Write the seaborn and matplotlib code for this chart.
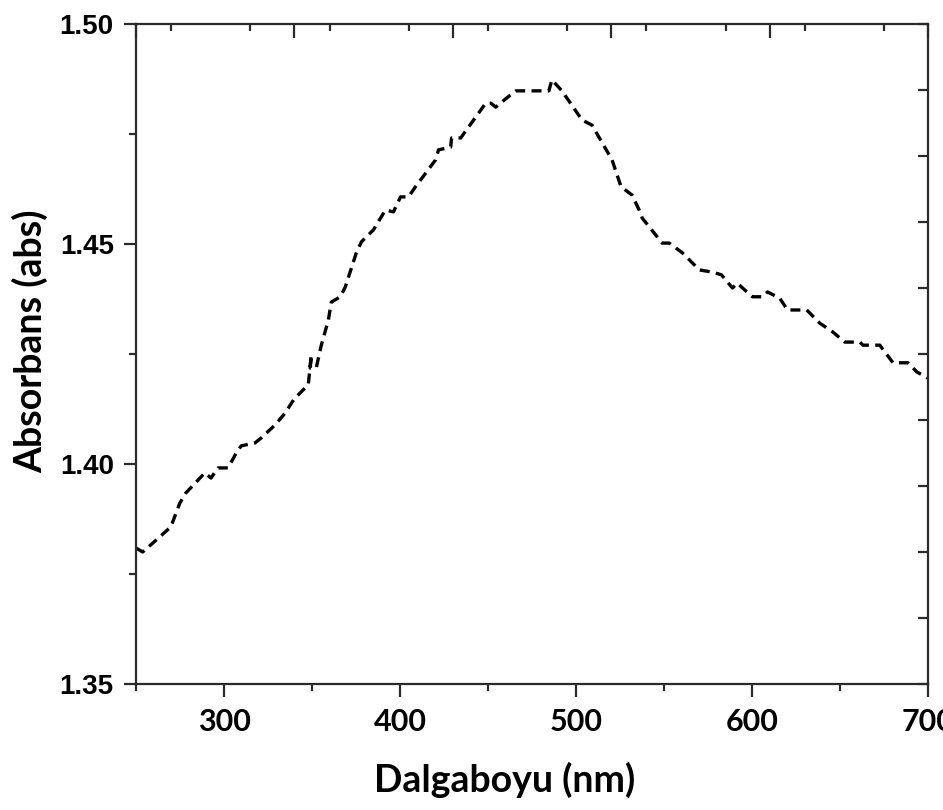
import matplotlib
matplotlib.use("Agg")
import matplotlib.pyplot as plt
import seaborn as sns
import pandas as pd
from matplotlib.ticker import MultipleLocator, NullFormatter

# Data
wavelength = [250.0, 253.8, 259.5, 269.8, 274.9, 278.3, 289.2, 292.6, 296.6, 302.3,
              306.3, 309.7, 317.7, 321.1, 329.1, 334.8, 339.9, 347.9, 349.6, 349.0,
              352.4, 355.3, 359.3, 361.0, 366.1, 368.9, 375.2, 378.1, 384.9, 391.7,
              396.3, 400.3, 404.8, 408.8, 420.2, 421.9, 428.8, 429.3, 434.5, 439.0,
              448.7, 451.6, 454.4, 460.7, 465.8, 484.6, 486.3, 492.0, 503.4, 509.1,
              520.5, 525.6, 531.9, 535.9, 537.6, 544.4, 549.0, 553.0, 560.4, 570.1,
              577.5, 582.6, 588.9, 591.7, 594.6, 600.3, 606.0, 608.8, 615.7, 620.2,
              631.1, 638.5, 645.9, 652.7, 661.3, 663.0, 672.6, 680.1, 688.6, 693.7,
              700.0]
absorbance = [1.3809, 1.3800, 1.3820, 1.3857, 1.3911, 1.3934, 1.3980, 1.3968, 1.3991, 1.3991,
              1.4020, 1.4041, 1.4048, 1.4059, 1.4089, 1.4116, 1.4148, 1.4180, 1.4248, 1.4218,
              1.4218, 1.4270, 1.4327, 1.4368, 1.4380, 1.4402, 1.4480, 1.4505, 1.4532, 1.4577,
              1.4573, 1.4607, 1.4607, 1.4630, 1.4691, 1.4714, 1.4720, 1.4741, 1.4741, 1.4766,
              1.4820, 1.4820, 1.4811, 1.4832, 1.4848, 1.4848, 1.4873, 1.4848, 1.4782, 1.4770,
              1.4691, 1.4630, 1.4611, 1.4577, 1.4559, 1.4525, 1.4502, 1.4502, 1.4480, 1.4441,
              1.4436, 1.4430, 1.4400, 1.4411, 1.4400, 1.4380, 1.4380, 1.4391, 1.4377, 1.4350,
              1.4350, 1.4320, 1.4300, 1.4277, 1.4277, 1.4270, 1.4270, 1.4230, 1.4230, 1.4209,
              1.4195]
x_ticks = [300, 400, 500, 600, 700]
y_ticks = [1.35, 1.40, 1.45, 1.50]
x_label = "Dalgaboyu (nm)"
y_label = "Absorbans (abs)"

sns.set_style("ticks")
plt.rcParams["font.family"] = ["Lato", "DejaVu Sans"]
plt.rcParams["text.color"] = "black"
plt.rcParams["axes.labelcolor"] = "black"
plt.rcParams["xtick.color"] = "black"
plt.rcParams["ytick.color"] = "black"

fig = plt.figure(figsize=(9.43, 8.10), dpi=100)
ax = fig.add_axes([0.1442, 0.1556, 0.9841 - 0.1442, 0.9704 - 0.1556])

df = pd.DataFrame({"wl": wavelength, "abs": absorbance})
sns.lineplot(data=df, x="wl", y="abs", sort=False, estimator=None, color="black",
             linewidth=2.4, ax=ax)
ax.lines[0].set_linestyle((0, (3.0, 1.9)))

ax.set_xlim(250, 700)
ax.set_ylim(1.35, 1.50)
ax.set_xticks(x_ticks)
ax.set_yticks(y_ticks)
ax.set_xticklabels([str(v) for v in x_ticks])
ax.set_yticklabels([f"{v:.2f}" for v in y_ticks])
ax.xaxis.set_minor_locator(MultipleLocator(50))
ax.yaxis.set_minor_locator(MultipleLocator(0.025))

spine_color = "#2a2a2a"
for s in ax.spines.values():
    s.set_visible(True)
    s.set_linewidth(1.6)
    s.set_color(spine_color)

ax.tick_params(axis="both", which="major", direction="out", length=9, width=1.6,
               color=spine_color, pad=7)
ax.tick_params(axis="both", which="minor", direction="out", length=5, width=1.6,
               color=spine_color)
ax.tick_params(axis="x", which="major", labelsize=22, pad=8)
for lbl in ax.get_xticklabels():
    lbl.set_fontweight("bold")
for lbl in ax.get_yticklabels():
    lbl.set_fontweight("bold")
    lbl.set_fontfamily(["Liberation Sans", "DejaVu Sans"])
    lbl.set_fontsize(20)

# top and right auxiliary ticks (no labels)
top = ax.secondary_xaxis("top")
top.set_xticks([250 + 90 * i for i in range(6)])
top.xaxis.set_minor_locator(MultipleLocator(45))
top.xaxis.set_major_formatter(NullFormatter())
top.tick_params(which="major", direction="in", length=10, width=1.6, color=spine_color)
top.tick_params(which="minor", direction="in", length=5, width=1.6, color=spine_color)
top.spines["top"].set_visible(False)

right = ax.secondary_yaxis("right")
right.set_yticks([1.35 + 0.015 * i for i in range(11)])
right.yaxis.set_major_formatter(NullFormatter())
right.tick_params(which="major", direction="in", length=7, width=1.6, color=spine_color)
right.spines["right"].set_visible(False)

ax.set_xlabel(x_label, fontsize=27, fontweight="bold", va="center")
ax.set_ylabel(y_label, fontsize=27, fontweight="bold", va="center")
ax.xaxis.set_label_coords(0.465, -0.145)
ax.yaxis.set_label_coords(-0.134, 0.52)

fig.savefig("out.png", dpi=100, facecolor="white")
